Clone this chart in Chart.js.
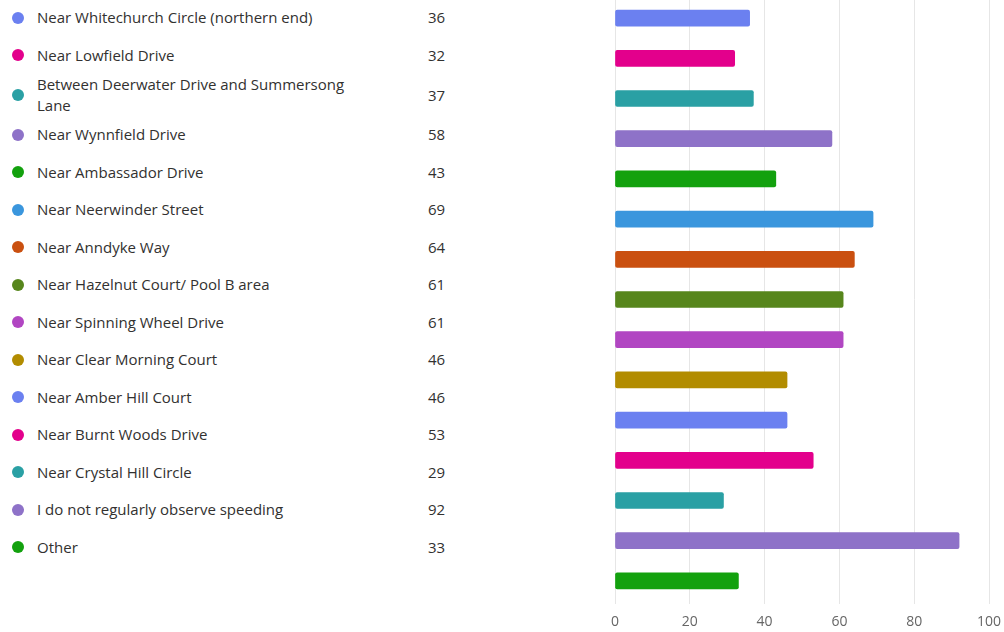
<!DOCTYPE html>
<html lang="en">
<head>
  <meta charset="UTF-8">
  <title>Speeding locations</title>
  <script src="https://cdn.jsdelivr.net/npm/chart.js"></script>
  <style>
    body {
      margin: 0;
      background: #fff;
      width: 1004px;
      height: 632px;
      overflow: hidden;
      position: relative;
      font-family: 'Open Sans', 'Noto Sans', sans-serif;
      color: #323130;
    }
    #chart {
      position: absolute;
      left: 0;
      top: -2px;
    }
    #list {
      position: absolute;
      left: 0;
      top: -1px;
      width: 470px;
    }
    .row {
      position: relative;
      display: flex;
      align-items: center;
      min-height: 37.5px;
      line-height: 21px;
      font-size: 15px;
    }
    .dot {
      position: absolute;
      left: 12px;
      top: 50%;
      width: 12px;
      height: 12px;
      margin-top: -6px;
      border-radius: 50%;
    }
    .label {
      margin-left: 37px;
      width: 325px;
    }
    .value {
      position: absolute;
      left: 428px;
      top: 50%;
      margin-top: -10.5px;
    }
  </style>
</head>
<body>
  <div id="list"></div>
  <canvas id="chart" width="1004" height="634"></canvas>

  <script>
    const categories = [
      'Near Whitechurch Circle (northern end)',
      'Near Lowfield Drive',
      'Between Deerwater Drive and Summersong Lane',
      'Near Wynnfield Drive',
      'Near Ambassador Drive',
      'Near Neerwinder Street',
      'Near Anndyke Way',
      'Near Hazelnut Court/ Pool B area',
      'Near Spinning Wheel Drive',
      'Near Clear Morning Court',
      'Near Amber Hill Court',
      'Near Burnt Woods Drive',
      'Near Crystal Hill Circle',
      'I do not regularly observe speeding',
      'Other'
    ];
    const counts = [36, 32, 37, 58, 43, 69, 64, 61, 61, 46, 46, 53, 29, 92, 33];
    const colors = [
      '#6b80f0', '#e3008c', '#2aa0a4', '#8e72c8', '#13a10e',
      '#3a96dd', '#ca5010', '#57861c', '#b146c2', '#b28c00',
      '#6b80f0', '#e3008c', '#2aa0a4', '#8e72c8', '#13a10e'
    ];
    const xTicks = [0, 20, 40, 60, 80, 100];

    // left list: dot, label, count
    const list = document.getElementById('list');
    categories.forEach((name, i) => {
      const row = document.createElement('div');
      row.className = 'row';
      row.innerHTML = '<span class="dot" style="background:' + colors[i] + '"></span>' +
        '<div class="label">' + name + '</div>' +
        '<span class="value">' + counts[i] + '</span>';
      list.appendChild(row);
    });

    new Chart(document.getElementById('chart'), {
      type: 'bar',
      data: {
        labels: categories,
        datasets: [{
          data: counts,
          backgroundColor: colors,
          borderRadius: 2,
          borderSkipped: false,
          barThickness: 16
        }]
      },
      options: {
        indexAxis: 'y',
        responsive: false,
        animation: false,
        layout: { padding: { left: 615, right: 15, top: 0, bottom: 0 } },
        plugins: { legend: { display: false }, tooltip: { enabled: false } },
        scales: {
          y: { display: false },
          x: {
            min: 0,
            max: 100,
            afterBuildTicks(scale) {
              scale.ticks = xTicks.map(v => ({ value: v }));
            },
            afterFit(scale) {
              scale.height = 31;
              scale.paddingLeft = 0;
              scale.paddingRight = 0;
            },
            border: { display: false },
            grid: { color: '#e6e6e6', tickLength: 3 },
            ticks: {
              color: '#666',
              padding: 10,
              font: { family: 'Open Sans', size: 14 }
            }
          }
        }
      }
    });
  </script>
</body>
</html>
